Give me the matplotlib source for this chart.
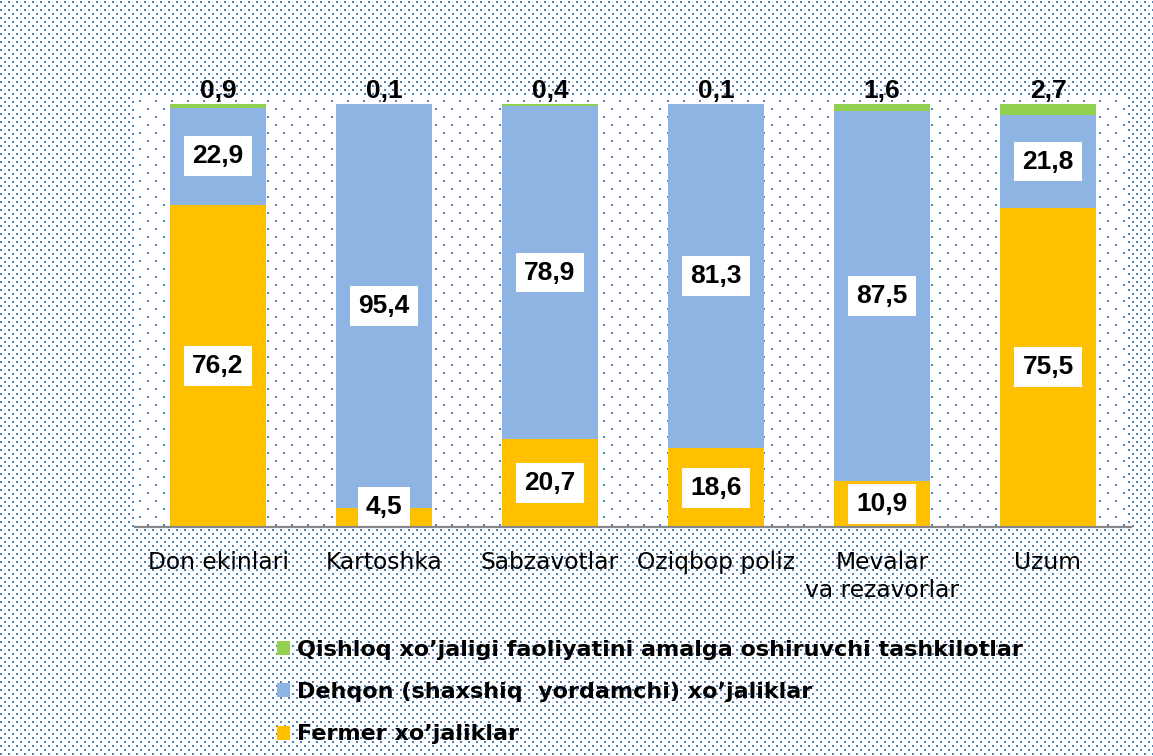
import matplotlib
matplotlib.use("Agg")
import matplotlib.pyplot as plt
import numpy as np

plt.rcParams["font.family"] = ["Liberation Sans", "DejaVu Sans"]

categories = ["Don ekinlari", "Kartoshka", "Sabzavotlar", "Oziqbop poliz",
              "Mevalar\nva rezavorlar", "Uzum"]
fermer = [76.2, 4.5, 20.7, 18.6, 10.9, 75.5]
dehqon = [22.9, 95.4, 78.9, 81.3, 87.5, 21.8]
qishloq = [0.9, 0.1, 0.4, 0.1, 1.6, 2.7]

series_names = [
    "Fermer xo\u2019jaliklar",
    "Dehqon (shaxshiq  yordamchi) xo\u2019jaliklar",
    "Qishloq xo\u2019jaligi faoliyatini amalga oshiruvchi tashkilotlar",
]
colors = ["#FFC000", "#8EB4E3", "#92D050"]

W, H = 1153, 756
DOT = (79 / 255, 129 / 255, 189 / 255)


def dotted_background():
    """Dense dot pattern outside the plot area, sparse one inside."""
    img = np.ones((H, W, 3))
    for r, y in enumerate(range(1, H, 4)):
        for x in range((r % 2) * 4, W, 8):
            img[y:y + 2, x:x + 2] = DOT
    y0, y1, x0, x1 = 97, 526, 135, 1128
    img[y0:y1, x0:x1] = 1.0
    for r, y in enumerate(range(y0 + 3, y1 - 1, 8)):
        for x in range(x0 + 4 + (r % 2) * 8, x1 - 1, 16):
            img[y:y + 2, x:x + 2] = DOT
    return img


fig = plt.figure(figsize=(W / 100, H / 100), dpi=100)
fig.figimage(dotted_background(), xo=0, yo=0, origin="upper", zorder=-1)

ax = fig.add_axes([135 / W, 1 - 527 / H, 996 / W, 423 / H])
ax.patch.set_visible(False)

x = np.arange(len(categories))
width = 0.58
bottoms = np.zeros(len(categories))
bars = []
for vals, name, col in zip([fermer, dehqon, qishloq], series_names, colors):
    b = ax.bar(x, vals, width, bottom=bottoms, color=col, label=name, zorder=2)
    bars.append(b)
    bottoms = bottoms + np.array(vals)

box = dict(boxstyle="square,pad=0.3", fc="white", ec="none")
fs = 19
# inner labels (fermer, dehqon)
base = np.zeros(len(categories))
for vals in [fermer, dehqon]:
    for i, v in enumerate(vals):
        yc = max(base[i] + v / 2, 4.8)
        ax.text(i, yc, f"{v:.1f}".replace(".", ","), ha="center", va="center",
                fontsize=fs, fontweight="bold", bbox=box, zorder=3)
    base = base + np.array(vals)
# top labels (qishloq)
for i, v in enumerate(qishloq):
    ax.annotate(f"{v:.1f}".replace(".", ","), xy=(i, base[i] + v),
                xytext=(0, 9), textcoords="offset points",
                ha="center", va="center", fontsize=fs, fontweight="bold",
                zorder=3)

ax.set_xlim(-0.5, len(categories) - 0.5)
ax.set_ylim(0, 100)
ax.set_xticks(x)
ax.set_xticklabels(categories, fontsize=16.8, family="DejaVu Sans",
                   linespacing=1.3)
ax.tick_params(axis="x", length=0, pad=17)
ax.set_yticks([])
for s in ["top", "right", "left"]:
    ax.spines[s].set_visible(False)
ax.spines["bottom"].set_color("#868686")
ax.spines["bottom"].set_linewidth(1.6)
ax.spines["bottom"].set_zorder(4)

fig.legend(handles=bars[::-1], labels=series_names[::-1],
           loc="upper left", bbox_to_anchor=(277 / W, 1 - 640 / H),
           frameon=False,
           prop=dict(size=16, weight="bold", family="DejaVu Sans"),
           handlelength=0.58, handleheight=0.58, handletextpad=0.3,
           labelspacing=1.0, borderpad=0, borderaxespad=0)

fig.savefig("out.png", dpi=100)
